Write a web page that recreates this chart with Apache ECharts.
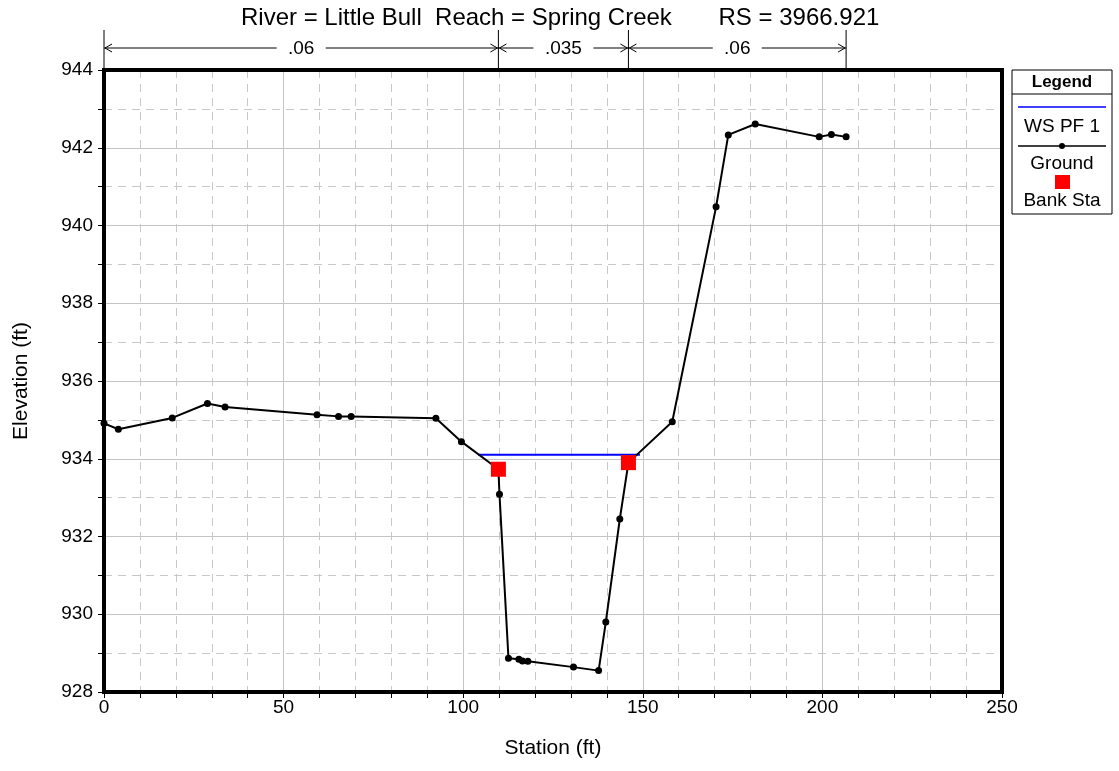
<!DOCTYPE html>
<html><head><meta charset="utf-8">
<script src="https://cdn.jsdelivr.net/npm/echarts@6/dist/echarts.min.js"></script>
<style>html,body{margin:0;padding:0;background:#fff}#c{width:1119px;height:771px}</style>
</head><body><div id="c"></div>
<script>
const titleText = 'River = Little Bull  Reach = Spring Creek       RS = 3966.921';
const station = [0, 4, 19, 28.8, 33.7, 59.3, 65.3, 68.8, 92.4, 99.5, 109.8, 110.1, 112.6, 115.5, 116.5, 118.0, 130.7, 137.7, 139.7, 143.6, 146.0, 158.2, 170.4, 173.8, 181.3, 199.1, 202.5, 206.6];
const elevation = [934.91, 934.76, 935.05, 935.42, 935.33, 935.13, 935.09, 935.09, 935.04, 934.44, 933.73, 933.09, 928.87, 928.84, 928.80, 928.79, 928.64, 928.55, 929.80, 932.45, 933.90, 934.95, 940.48, 942.33, 942.61, 942.28, 942.34, 942.28];
const wsStation = [104.2, 149.2];
const wsElev = [934.10, 934.10];
const bankStation = [109.8, 146.0];
const bankElev = [933.73, 933.90];
const nBreaks = [0, 109.8, 146.0, 206.6];
const nValues = ['.06', '.035', '.06'];
const legendNames = ['WS PF 1', 'Ground', 'Bank Sta'];

const FONT = 'Liberation Sans, Arial, sans-serif';
const chart = echarts.init(document.getElementById('c'), null, {renderer: 'canvas'});
const ground = station.map((s, i) => [s, elevation[i]]);
const ws = wsStation.map((s, i) => [s, wsElev[i]]);
const bank = bankStation.map((s, i) => [s, bankElev[i]]);

chart.setOption({
  animation: false,
  backgroundColor: '#fff',
  title: {text: titleText, left: 236, top: 1, textStyle: {fontFamily: FONT, fontSize: 24, fontWeight: 'normal', color: '#000'}},
  grid: {left: 104, right: 117, top: 70, bottom: 79, show: false},
  xAxis: {
    type: 'value', min: 0, max: 250, interval: 50,
    name: 'Station (ft)', nameLocation: 'middle', nameGap: 46,
    nameTextStyle: {fontFamily: FONT, fontSize: 21, color: '#000'},
    axisLine: {show: false},
    axisTick: {show: true, length: 6, lineStyle: {color: '#000'}},
    minorTick: {show: true, splitNumber: 5, length: 6, lineStyle: {color: '#000'}},
    axisLabel: {fontFamily: FONT, fontSize: 19, color: '#000', margin: 6},
    splitLine: {show: true, lineStyle: {color: '#c4c4c4', width: 1}},
    minorSplitLine: {show: true, lineStyle: {color: '#c8c8c8', width: 1, type: [8, 6]}}
  },
  yAxis: {
    type: 'value', min: 928, max: 944, interval: 2,
    name: 'Elevation (ft)', nameLocation: 'middle', nameGap: 72, nameRotate: 90,
    nameTextStyle: {fontFamily: FONT, fontSize: 21, color: '#000'},
    axisLine: {show: false},
    axisTick: {show: true, length: 6, lineStyle: {color: '#000'}},
    minorTick: {show: true, splitNumber: 2, length: 6, lineStyle: {color: '#000'}},
    axisLabel: {fontFamily: FONT, fontSize: 19, color: '#000', margin: 11},
    splitLine: {show: true, lineStyle: {color: '#c4c4c4', width: 1}},
    minorSplitLine: {show: true, lineStyle: {color: '#c8c8c8', width: 1, type: [8, 6]}}
  },
  series: [
    {name: legendNames[0], type: 'line', data: ws, showSymbol: false, lineStyle: {color: '#0000ff', width: 2}, z: 3},
    {name: legendNames[1], type: 'line', data: ground, symbol: 'circle', symbolSize: 7, itemStyle: {color: '#000'}, lineStyle: {color: '#000', width: 2}, z: 4},
    {name: legendNames[2], type: 'scatter', data: bank, symbol: 'rect', symbolSize: 15, itemStyle: {color: '#ff0000', opacity: 1}, z: 5}
  ]
});

const gfx = [];
// plot frame from the axis extents
const p0 = chart.convertToPixel({gridIndex: 0}, [0, 944]);
const p1 = chart.convertToPixel({gridIndex: 0}, [250, 928]);
gfx.push({type: 'rect', z: 100, shape: {x: p0[0], y: p0[1], width: p1[0] - p0[0], height: p1[1] - p0[1]}, style: {fill: null, stroke: '#000', lineWidth: 4}, silent: true});
// Manning's n annotation above the plot, positioned through the axis scale
const yTop = p0[1];
const arrowY = yTop - 22;
const px = nBreaks.map(s => chart.convertToPixel({gridIndex: 0}, [s, 944])[0]);
px.forEach(x => gfx.push({type: 'line', shape: {x1: x, y1: yTop - 40, x2: x, y2: yTop}, style: {stroke: '#000', lineWidth: 1}, silent: true}));
for (let i = 0; i < nValues.length; i++) {
  const a = px[i], b = px[i + 1], m = (a + b) / 2;
  const half = nValues[i].length * 5.5 + 8;
  gfx.push({type: 'line', shape: {x1: a, y1: arrowY, x2: m - half, y2: arrowY}, style: {stroke: '#000', lineWidth: 1}});
  gfx.push({type: 'line', shape: {x1: m + half, y1: arrowY, x2: b, y2: arrowY}, style: {stroke: '#000', lineWidth: 1}});
  gfx.push({type: 'polyline', shape: {points: [[a + 8, arrowY - 4], [a + 1, arrowY], [a + 8, arrowY + 4]]}, style: {stroke: '#000', fill: null, lineWidth: 1}});
  gfx.push({type: 'polyline', shape: {points: [[b - 8, arrowY - 4], [b - 1, arrowY], [b - 8, arrowY + 4]]}, style: {stroke: '#000', fill: null, lineWidth: 1}});
  gfx.push({type: 'text', x: m, y: arrowY + 1, style: {text: nValues[i], fontFamily: FONT, fontSize: 19, fill: '#000', align: 'center', verticalAlign: 'middle'}});
}
// Legend box
const L = 1012, T = 70, W = 100, cx = L + W / 2;
gfx.push({type: 'rect', shape: {x: L, y: T, width: W, height: 144}, style: {fill: '#fff', stroke: '#000', lineWidth: 1}});
gfx.push({type: 'text', x: cx, y: T + 12, style: {text: 'Legend', fontFamily: FONT, fontSize: 17, fontWeight: 'bold', fill: '#000', align: 'center', verticalAlign: 'middle'}});
gfx.push({type: 'line', shape: {x1: L, y1: T + 24, x2: L + W, y2: T + 24}, style: {stroke: '#000', lineWidth: 1}});
gfx.push({type: 'line', shape: {x1: L + 6, y1: T + 37, x2: L + W - 6, y2: T + 37}, style: {stroke: '#0000ff', lineWidth: 1.5}});
gfx.push({type: 'text', x: cx, y: T + 57, style: {text: legendNames[0], fontFamily: FONT, fontSize: 19, fill: '#000', align: 'center', verticalAlign: 'middle'}});
gfx.push({type: 'line', shape: {x1: L + 6, y1: T + 76, x2: L + W - 6, y2: T + 76}, style: {stroke: '#000', lineWidth: 1.5}});
gfx.push({type: 'circle', shape: {cx: cx, cy: T + 76, r: 3}, style: {fill: '#000'}});
gfx.push({type: 'text', x: cx, y: T + 94, style: {text: legendNames[1], fontFamily: FONT, fontSize: 19, fill: '#000', align: 'center', verticalAlign: 'middle'}});
gfx.push({type: 'rect', shape: {x: cx - 7, y: T + 105, width: 15, height: 14}, style: {fill: '#ff0000'}});
gfx.push({type: 'text', x: cx, y: T + 131, style: {text: legendNames[2], fontFamily: FONT, fontSize: 19, fill: '#000', align: 'center', verticalAlign: 'middle'}});
chart.setOption({graphic: gfx});
</script></body></html>
